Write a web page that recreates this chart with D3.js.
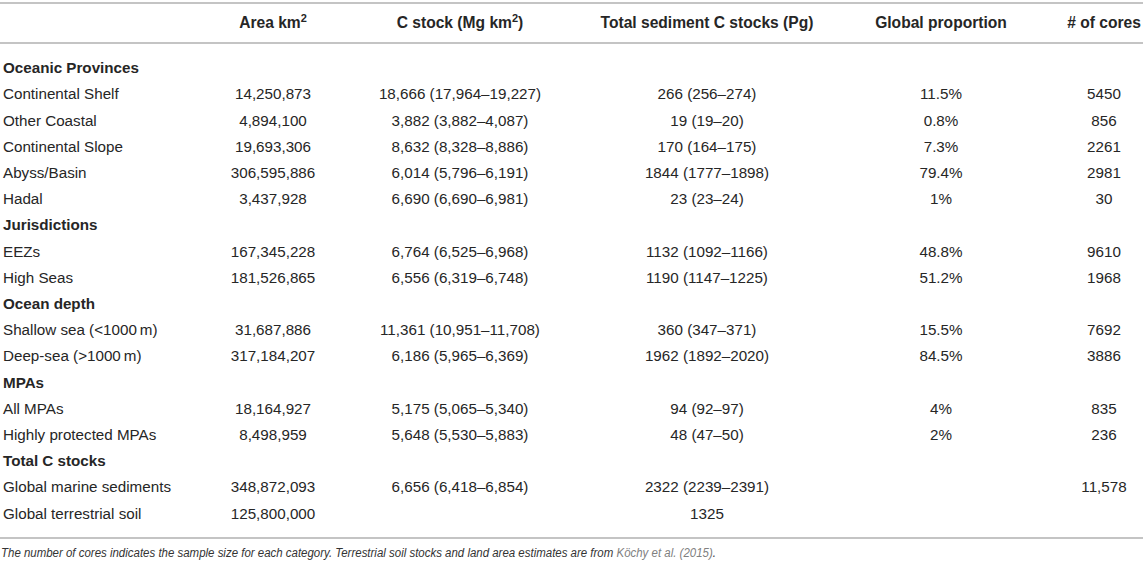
<!DOCTYPE html>
<html>
<head>
<meta charset="utf-8">
<script src="https://cdn.jsdelivr.net/npm/d3@7"></script>
<style>
  html, body { margin: 0; padding: 0; background: #fff; }
  svg { display: block; font-family: "Liberation Sans", Arial, Helvetica, sans-serif; }
</style>
</head>
<body>
<svg id="chart" width="1143" height="564"></svg>
<script>
// ---- data ----
const headers = ["Area km", "C stock (Mg km", "Total sediment C stocks (Pg)", "Global proportion", "# of cores"];
const headerSup = ["2", "2", "", "", ""];
const headerTail = ["", ")", "", "", ""];
const rowLabels = [
  "Oceanic Provinces", "Continental Shelf", "Other Coastal", "Continental Slope", "Abyss/Basin", "Hadal",
  "Jurisdictions", "EEZs", "High Seas",
  "Ocean depth", "Shallow sea (<1000\u2009m)", "Deep-sea (>1000\u2009m)",
  "MPAs", "All MPAs", "Highly protected MPAs",
  "Total C stocks", "Global marine sediments", "Global terrestrial soil"
];
const isSection = [1,0,0,0,0,0, 1,0,0, 1,0,0, 1,0,0, 1,0,0];
const areaKm2 = ["", "14,250,873", "4,894,100", "19,693,306", "306,595,886", "3,437,928",
  "", "167,345,228", "181,526,865",
  "", "31,687,886", "317,184,207",
  "", "18,164,927", "8,498,959",
  "", "348,872,093", "125,800,000"];
const cStock = ["", "18,666 (17,964\u201319,227)", "3,882 (3,882\u20134,087)", "8,632 (8,328\u20138,886)", "6,014 (5,796\u20136,191)", "6,690 (6,690\u20136,981)",
  "", "6,764 (6,525\u20136,968)", "6,556 (6,319\u20136,748)",
  "", "11,361 (10,951\u201311,708)", "6,186 (5,965\u20136,369)",
  "", "5,175 (5,065\u20135,340)", "5,648 (5,530\u20135,883)",
  "", "6,656 (6,418\u20136,854)", ""];
const totalStock = ["", "266 (256\u2013274)", "19 (19\u201320)", "170 (164\u2013175)", "1844 (1777\u20131898)", "23 (23\u201324)",
  "", "1132 (1092\u20131166)", "1190 (1147\u20131225)",
  "", "360 (347\u2013371)", "1962 (1892\u20132020)",
  "", "94 (92\u201397)", "48 (47\u201350)",
  "", "2322 (2239\u20132391)", "1325"];
const proportion = ["", "11.5%", "0.8%", "7.3%", "79.4%", "1%",
  "", "48.8%", "51.2%",
  "", "15.5%", "84.5%",
  "", "4%", "2%",
  "", "", ""];
const cores = ["", "5450", "856", "2261", "2981", "30",
  "", "9610", "1968",
  "", "7692", "3886",
  "", "835", "236",
  "", "11,578", ""];
const footnoteParts = [
  "The number of cores indicates the sample size for each category. Terrestrial soil stocks and land area estimates are from ",
  "Köchy et al. (2015)",
  "."
];
const footnoteColors = ["#333", "#808080", "#333"];

// ---- layout ----
const W = 1143, H = 564;
const svg = d3.select("#chart");
const fs = 15.2;
const textColor = "#262626";
const ruleColor = "#c4c4c4";

const columns = [areaKm2, cStock, totalStock, proportion, cores];
const colX = d3.scaleOrdinal().domain(d3.range(5)).range([273, 460, 707, 941, 1104]);
const rowStep = 26.2;
const rowY = d3.scaleBand().domain(d3.range(rowLabels.length)).range([54.6, 54.6 + rowStep * rowLabels.length]);
const bw = rowY.bandwidth();
const baseOff = bw / 2 + 5.5;

// rules
const rules = [3, 43, 538];
svg.selectAll("line.rule").data(rules).join("line")
  .attr("class", "rule")
  .attr("x1", 0).attr("x2", W)
  .attr("y1", d => d).attr("y2", d => d)
  .attr("stroke", ruleColor).attr("stroke-width", 2);

// headers
const hdr = svg.selectAll("text.hdr").data(headers).join("text")
  .attr("class", "hdr")
  .attr("x", (d, i) => colX(i))
  .attr("y", 28)
  .attr("text-anchor", "middle")
  .attr("font-size", 15.6)
  .attr("font-weight", "bold")
  .attr("fill", textColor);
hdr.each(function(d, i) {
  const t = d3.select(this);
  t.append("tspan").text(d);
  if (headerSup[i]) {
    t.append("tspan").attr("dy", -6).attr("font-size", 11).text(headerSup[i]);
    t.append("tspan").attr("dy", 6).text(headerTail[i]);
  }
});

// row labels
svg.selectAll("text.lbl").data(rowLabels).join("text")
  .attr("class", "lbl")
  .attr("x", 3)
  .attr("y", (d, i) => rowY(i) + baseOff)
  .attr("font-size", fs)
  .attr("font-weight", (d, i) => isSection[i] ? "bold" : "normal")
  .attr("fill", textColor)
  .text(d => d);

// cells
columns.forEach((col, c) => {
  svg.selectAll("text.c" + c).data(col).join("text")
    .attr("class", "c" + c)
    .attr("x", colX(c))
    .attr("y", (d, i) => rowY(i) + baseOff)
    .attr("text-anchor", "middle")
    .attr("font-size", fs)
    .attr("fill", textColor)
    .text(d => d);
});

// footnote (condensed horizontally to match the reference width)
const fg = svg.append("g").attr("transform", "translate(1,557) scale(0.85,1)");
let fx = 0;
footnoteParts.forEach((p, i) => {
  const t = fg.append("text")
    .attr("x", fx).attr("y", 0)
    .attr("font-size", 13.5)
    .attr("font-style", "italic")
    .attr("fill", footnoteColors[i])
    .style("white-space", "pre")
    .attr("xml:space", "preserve")
    .text(p);
  fx += t.node().getComputedTextLength();
});
</script>
</body>
</html>
